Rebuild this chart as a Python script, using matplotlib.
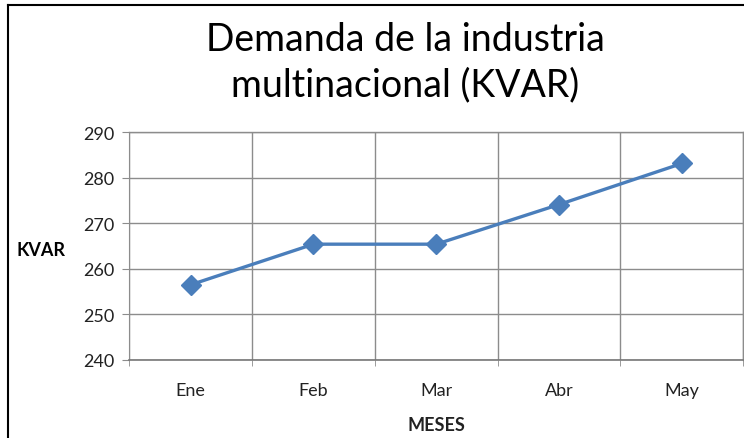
import matplotlib

matplotlib.use("Agg")
import matplotlib.pyplot as plt
from matplotlib.lines import Line2D

plt.rcParams["font.family"] = ["Lato", "DejaVu Sans"]

meses = ["Ene", "Feb", "Mar", "Abr", "May"]
kvar = [256.5, 265.4, 265.4, 274.1, 283.1]
y_ticks = [240, 250, 260, 270, 280, 290]

BLUE = "#4a7ebb"
GRID = "#8c8c8c"

fig = plt.figure(figsize=(7.44, 4.39), dpi=100)
ax = fig.add_axes([0.1738, 0.1777, 0.8252, 0.5193])

x = list(range(len(meses)))
ax.plot(x, kvar, color=BLUE, lw=2.4, marker="D", markersize=10,
        markerfacecolor=BLUE, markeredgecolor=BLUE, zorder=3)

ax.set_xlim(-0.5, len(meses) - 0.5)
ax.set_ylim(y_ticks[0], y_ticks[-1])
ax.set_yticks(y_ticks)
ax.set_xticks(x)
ax.set_xticklabels(meses)
ax.set_xticks([i - 0.5 for i in range(len(meses) + 1)], minor=True)

ax.grid(axis="y", which="major", color=GRID, lw=1)
ax.grid(axis="x", which="minor", color=GRID, lw=1)
ax.tick_params(axis="x", which="major", length=0, pad=16, labelsize=13, colors="#222222")
ax.tick_params(axis="x", which="minor", length=4, color=GRID)
ax.tick_params(axis="y", length=5, color=GRID, pad=6, labelsize=13, labelcolor="#222222")

for side in ["top", "right"]:
    ax.spines[side].set_color(GRID)
    ax.spines[side].set_linewidth(1)
ax.spines["left"].set_color(GRID)
ax.spines["bottom"].set_color("#777777")
ax.spines["bottom"].set_linewidth(1.2)

ax.set_xlabel("MESES", fontsize=13, fontweight="bold", labelpad=13, color="#222222")
fig.text(0.022, 0.43, "KVAR", fontsize=13, fontweight="bold", va="center", ha="left")

fig.text(0.545, 0.91, "Demanda de la industria", fontsize=27, ha="center", va="center")
fig.text(0.545, 0.805, "multinacional (KVAR)", fontsize=27, ha="center", va="center")

# chart outline (left and top edges visible)
fig.add_artist(Line2D([0.0101, 0.0101], [0, 0.987], transform=fig.transFigure, color="black", lw=1.5))
fig.add_artist(Line2D([0.0101, 1.0], [0.987, 0.987], transform=fig.transFigure, color="black", lw=1.5))

fig.savefig("out.png", dpi=100)
